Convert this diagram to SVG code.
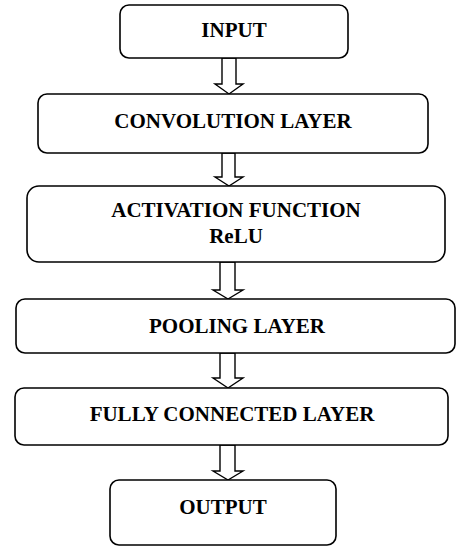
<svg xmlns="http://www.w3.org/2000/svg" width="456" height="547" viewBox="0 0 456 547">
<style>
.box{fill:#fff;stroke:#000;stroke-width:1.6}
.arr{fill:#fff;stroke:#000;stroke-width:1.4;stroke-linejoin:miter}
text{font-family:"Liberation Serif","Times New Roman",serif;font-weight:bold;font-size:21px;fill:#000;text-anchor:middle}
</style>
<rect width="456" height="547" fill="#fff"/>
<g id="connectors">
<polygon class="arr" points="222,58 236,58 236,84 243,84 229,94 215,84 222,84"/>
<polygon class="arr" points="222,153 235,153 235,177 243,177 229,186 215,177 222,177"/>
<polygon class="arr" points="220,262 235,262 235,290 243,290 228,299 213,290 220,290"/>
<polygon class="arr" points="220,353 235,353 235,378 243,378 228,388 213,378 220,378"/>
<polygon class="arr" points="220,445 235,445 235,471 243,471 228,480 213,471 220,471"/>
</g>
<g id="input"><rect class="box" x="120" y="5" width="228" height="53" rx="9"/><text x="234" y="37">INPUT</text></g>
<g id="conv"><rect class="box" x="38" y="94" width="390" height="59" rx="9"/><text x="233" y="128">CONVOLUTION LAYER</text></g>
<g id="act"><rect class="box" x="27" y="186" width="418" height="76" rx="12"/><text x="236" y="217">ACTIVATION FUNCTION</text><text x="236" y="243">ReLU</text></g>
<g id="pool"><rect class="box" x="16" y="299" width="439" height="54" rx="9"/><text x="237" y="333">POOLING LAYER</text></g>
<g id="fc"><rect class="box" x="15" y="388" width="433" height="57" rx="9"/><text x="232" y="421">FULLY CONNECTED LAYER</text></g>
<g id="output"><rect class="box" x="110" y="480" width="226" height="65" rx="9"/><text x="223" y="514">OUTPUT</text></g>
</svg>
